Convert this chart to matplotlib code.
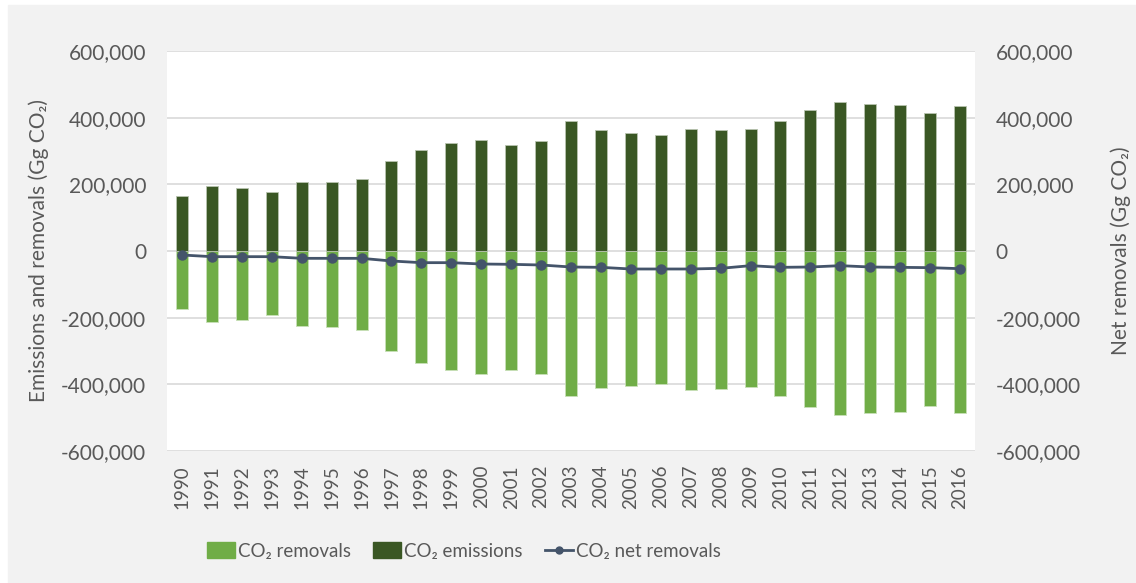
import matplotlib.pyplot as plt
import matplotlib.patches as mpatches
from matplotlib.lines import Line2D
from matplotlib.ticker import FuncFormatter

plt.rcParams['font.family'] = ['Lato', 'DejaVu Sans']

years = [str(y) for y in range(1990, 2017)]
emissions = [166000, 196000, 190000, 177000, 207000, 207000, 215000, 271000, 304000,
             324000, 332000, 318000, 329000, 390000, 362000, 354000, 348000, 365000,
             362000, 365000, 390000, 423000, 448000, 440000, 437000, 414000, 434000]
removals = [-175000, -212000, -206000, -192000, -225000, -228000, -236000, -300000,
            -336000, -358000, -369000, -356000, -369000, -436000, -411000, -406000,
            -400000, -417000, -414000, -408000, -436000, -467000, -491000, -486000,
            -483000, -464000, -486000]
net = [-12000, -17000, -17000, -17000, -22000, -22000, -22000, -30000, -35000,
       -35000, -39000, -40000, -42000, -48000, -49000, -54000, -54000, -54000,
       -52000, -44000, -49000, -48000, -44000, -48000, -49000, -50000, -53000]
yticks = [-600000, -400000, -200000, 0, 200000, 400000, 600000]

c_em = '#3a5724'
c_rm = '#70ad47'
c_net = '#44546a'
c_txt = '#595959'
bg = '#f2f2f2'

fig = plt.figure(figsize=(11.36, 5.83), dpi=100)
fig.patch.set_facecolor('white')
fig.patches.append(mpatches.Rectangle((8 / 1136, 0), 1, 1 - 5 / 583,
                                      transform=fig.transFigure, color=bg, zorder=-10))

ax = fig.add_axes([167 / 1136, 1 - 451 / 583, 808 / 1136, 400 / 583])
ax.set_facecolor('white')
x = range(len(years))
ax.bar(x, removals, width=0.4, color=c_rm, edgecolor='#c8e0b8', linewidth=0.6, zorder=2)
ax.bar(x, emissions, width=0.4, color=c_em, edgecolor='#b8c4b0', linewidth=0.6, zorder=2)
ax.set_xlim(-0.5, len(years) - 0.5)
ax.set_ylim(-600000, 600000)
ax.set_yticks(yticks)
fmt = FuncFormatter(lambda v, p: f'{int(v):,}')
ax.yaxis.set_major_formatter(fmt)
ax.grid(axis='y', color='#d9d9d9', linewidth=1.2, zorder=0)
ax.set_axisbelow(True)
for s in ax.spines.values():
    s.set_visible(False)
ax.set_xticks(list(x))
ax.set_xticklabels(years, rotation=90, fontsize=13.5, color=c_txt)
ax.tick_params(axis='both', length=0, colors=c_txt)
ax.tick_params(axis='y', labelsize=15, pad=15)
ax.tick_params(axis='x', pad=10)
ax.set_ylabel('Emissions and removals (Gg CO₂)', fontsize=15, color=c_txt, labelpad=9)

ax2 = ax.twinx()
ax2.plot(list(x), net, color=c_net, linewidth=2, marker='o', markersize=6.5, zorder=3)
ax2.set_ylim(-600000, 600000)
ax2.set_yticks(yticks)
ax2.yaxis.set_major_formatter(fmt)
for s in ax2.spines.values():
    s.set_visible(False)
ax2.tick_params(axis='y', length=0, labelsize=15, colors=c_txt, pad=15)
ax2.set_ylabel('Net removals (Gg CO₂)', fontsize=15, color=c_txt, labelpad=21)

handles = [mpatches.Patch(color=c_rm, label='CO₂ removals'),
           mpatches.Patch(color=c_em, label='CO₂ emissions'),
           Line2D([0], [0], color=c_net, linewidth=2, marker='o', markersize=5,
                  label='CO₂ net removals')]
fig.legend(handles=handles, loc='center', bbox_to_anchor=(464 / 1136, 1 - 551 / 583),
           ncol=3, frameon=False, fontsize=13.5, labelcolor=c_txt, handlelength=1.5,
           handleheight=0.9, handletextpad=0.15, columnspacing=1.2)

fig.savefig('out.png', dpi=100, facecolor=fig.get_facecolor())
